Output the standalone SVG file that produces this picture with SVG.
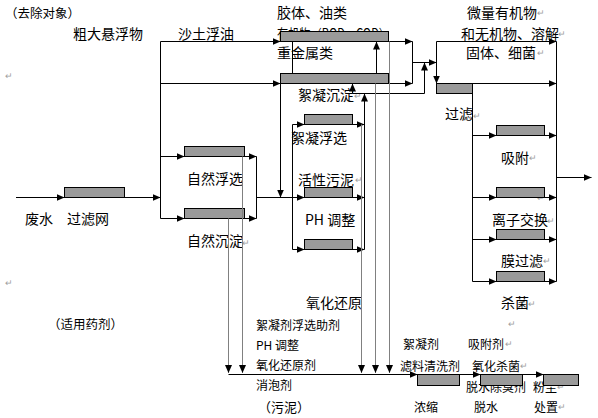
<svg xmlns="http://www.w3.org/2000/svg" width="598" height="418" viewBox="0 0 598 418">
<defs>
<style>
.t{font-family:"Noto Sans CJK SC","Liberation Sans",sans-serif;font-size:14px;fill:#000;dominant-baseline:central}
.s{font-size:12px}
.p{font-family:"Noto Sans CJK SC","Liberation Sans",sans-serif;font-size:9px;fill:#a0a0a0;dominant-baseline:central}
.box{fill:#9a9a9a;stroke:#000;stroke-width:1}
.ln{fill:none;stroke:#000;stroke-width:1}
.ar{marker-end:url(#ah)}
.gl{fill:none;stroke:#808080;stroke-width:1;marker-end:url(#ah)}
</style>
<marker id="ah" markerUnits="userSpaceOnUse" markerWidth="8" markerHeight="7" refX="8" refY="3.5" orient="auto">
<path d="M0,0 L8,3.5 L0,7 z" fill="#000"/>
</marker>
</defs>
<rect width="598" height="418" fill="#fff"/>

<g id="annotations">
<text class="t" x="5" y="12" style="font-size:12.5px">（去除对象）</text>
<text class="t" x="73" y="33">粗大悬浮物</text>
<text class="t" x="178" y="33">沙土浮油</text>
<text class="t" x="277" y="12">胶体、油类</text>
<text class="t" x="277" y="33" textLength="113" lengthAdjust="spacingAndGlyphs">有机物（BOD、COD）</text>
<text class="t" x="277" y="52">重金属类</text>
<text class="t" x="467" y="12">微量有机物</text>
<text class="t" x="461" y="33">和无机物、溶解</text>
<text class="t" x="466" y="52">固体、细菌</text>
<text class="t" x="25" y="218">废水</text>
<text class="t" x="306" y="302">氧化还原</text>
<text class="t" x="48" y="323" style="font-size:12.5px">（适用药剂）</text>
<text class="t s" x="256" y="324">絮凝剂浮选助剂</text>
<text class="t s" x="256" y="344">PH 调整</text>
<text class="t s" x="256" y="364">氧化还原剂</text>
<text class="t s" x="256" y="384">消泡剂</text>
<text class="t" x="258" y="406" style="font-size:13px">（污泥）</text>
<text class="t s" x="403" y="343">絮凝剂</text>
<text class="t s" x="400" y="365">滤料清洗剂</text>
<text class="t s" x="468" y="343">吸附剂</text>
<text class="t s" x="472" y="365">氧化杀菌</text>
<text class="t s" x="466" y="386">脱水除臭剂</text>
<text class="t s" x="533" y="386">粉尘</text>
<text class="p" x="5" y="75">↵</text>
<text class="p" x="5" y="282">↵</text>
<text class="p" x="537" y="12">↵</text>
<text class="p" x="558" y="33">↵</text>
<text class="p" x="537" y="52">↵</text>
<text class="p" x="354" y="95">↵</text>
<text class="p" x="355" y="179">↵</text>
<text class="p" x="242" y="242">↵</text>
<text class="p" x="473" y="115">↵</text>
<text class="p" x="529" y="157">↵</text>
<text class="p" x="537" y="197">↵</text>
<text class="p" x="547" y="220">↵</text>
<text class="p" x="543" y="260">↵</text>
<text class="p" x="528" y="303">↵</text>
<text class="p" x="508" y="323">↵</text>
<text class="p" x="505" y="343">↵</text>
<text class="p" x="520" y="365">↵</text>
<text class="p" x="557" y="386">↵</text>
<text class="p" x="558" y="406">↵</text>
</g>

<g id="n-filter-net"><rect class="box" x="64.5" y="187.5" width="60" height="10"/><text class="t" x="67" y="218">过滤网</text></g>
<g id="n-nat-float"><rect class="box" x="184.5" y="146.5" width="60" height="10"/><text class="t" x="187" y="178">自然浮选</text></g>
<g id="n-nat-settle"><rect class="box" x="184.5" y="208.5" width="60" height="10"/><text class="t" x="187" y="240">自然沉淀</text></g>
<g id="n-top"><rect class="box" x="280.5" y="31.5" width="108" height="10"/></g>
<g id="n-coag-settle"><rect class="box" x="280.5" y="73.5" width="108" height="10"/><text class="t" x="298" y="94">絮凝沉淀</text></g>
<g id="n-coag-float"><rect class="box" x="304.5" y="114.5" width="48" height="10"/><text class="t" x="291" y="137">絮凝浮选</text></g>
<g id="n-activated"><rect class="box" x="304.5" y="187.5" width="48" height="10"/><text class="t" x="298" y="179">活性污泥</text></g>
<g id="n-ph"><rect class="box" x="304.5" y="239.5" width="48" height="10"/><text class="t" x="305" y="219">PH 调整</text></g>
<g id="n-filter"><rect class="box" x="436.5" y="83.5" width="36" height="10"/><text class="t" x="445" y="113">过滤</text></g>
<g id="n-adsorb"><rect class="box" x="496.5" y="125.5" width="48" height="10"/><text class="t" x="501" y="157">吸附</text></g>
<g id="n-ion"><rect class="box" x="496.5" y="187.5" width="48" height="10"/><text class="t" x="492" y="219">离子交换</text></g>
<g id="n-membrane"><rect class="box" x="496.5" y="229.5" width="48" height="10"/><text class="t" x="501" y="260">膜过滤</text></g>
<g id="n-steril"><rect class="box" x="496.5" y="271.5" width="48" height="10"/><text class="t" x="501" y="302">杀菌</text></g>
<g id="n-thicken"><rect class="box" x="417.5" y="374.5" width="42" height="11"/><text class="t s" x="414" y="406">浓缩</text></g>
<g id="n-dewater"><rect class="box" x="480.5" y="374.5" width="42" height="11"/><text class="t s" x="474" y="406">脱水</text></g>
<g id="n-dispose"><rect class="box" x="543.5" y="374.5" width="35" height="11"/><text class="t s" x="534" y="406">处置</text></g>

<g id="connectors">
<path class="ln ar" d="M16,197.5 H64.5"/>
<path class="ln ar" d="M124.5,197.5 H160.5"/>
<path class="ln" d="M160.5,41.5 V218.5"/>
<path class="ln ar" d="M160.5,41.5 H280.5"/>
<path class="ln ar" d="M160.5,83.5 H280.5"/>
<path class="ln ar" d="M160.5,156.5 H184.5"/>
<path class="ln ar" d="M160.5,218.5 H184.5"/>
<path class="ln ar" d="M244.5,156.5 H256.5"/>
<path class="ln ar" d="M244.5,218.5 H256.5"/>
<path class="ln" d="M256.5,156.5 V218.5"/>
<path class="ln ar" d="M256.5,197.5 H304.5"/>
<path class="ln ar" d="M280.5,83.5 V197.5"/>
<path class="ln" d="M292.5,41.5 V73.5"/>
<path class="ln ar" d="M376.5,73.5 V41.5"/>
<path class="ln ar" d="M388.5,41.5 H412.5"/>
<path class="ln ar" d="M388.5,83.5 H412.5"/>
<path class="ln" d="M412.5,41.5 V83.5"/>
<path class="ln ar" d="M412.5,62.5 H436.5"/>
<path class="ln" d="M292.5,124.5 V249.5"/>
<path class="ln ar" d="M292.5,124.5 H304.5"/>
<path class="ln ar" d="M292.5,249.5 H304.5"/>
<path class="ln ar" d="M352.5,124.5 H364.5"/>
<path class="ln ar" d="M352.5,197.5 H364.5"/>
<path class="ln ar" d="M352.5,249.5 H364.5"/>
<path class="ln ar" d="M364.5,249.5 V93.5"/>
<path class="ln" d="M352.5,93.5 H424.5"/>
<path class="ln ar" d="M424.5,93.5 V62.5"/>
<path class="ln ar" d="M352.5,93.5 V83.5"/>
<path class="ln ar" d="M436.5,41.5 V83.5"/>
<path class="ln ar" d="M436.5,41.5 H556.5"/>
<path class="ln ar" d="M472.5,83.5 H556.5"/>
<path class="ln" d="M556.5,41.5 V281.5"/>
<path class="ln" d="M472.5,83.5 V281.5"/>
<path class="ln ar" d="M472.5,135.5 H496.5"/>
<path class="ln ar" d="M544.5,135.5 H556.5"/>
<path class="ln ar" d="M472.5,197.5 H496.5"/>
<path class="ln ar" d="M544.5,197.5 H556.5"/>
<path class="ln ar" d="M472.5,239.5 H496.5"/>
<path class="ln ar" d="M544.5,239.5 H556.5"/>
<path class="ln ar" d="M472.5,281.5 H496.5"/>
<path class="ln ar" d="M544.5,281.5 H556.5"/>
<path class="ln ar" d="M556.5,177.5 H591.5"/>
<path class="gl" d="M228.5,218.5 V373"/>
<path class="gl" d="M242.5,156.5 V373"/>
<path class="gl" d="M361.5,124.5 V373"/>
<path class="gl" d="M375.5,83.5 V373"/>
<path class="gl" d="M389.5,41.5 V373"/>
<path class="ln ar" d="M228.5,374.5 H417.5"/>
<path class="ln ar" d="M459.5,374.5 H480.5"/>
<path class="ln ar" d="M522.5,374.5 H543.5"/>
</g>
</svg>
